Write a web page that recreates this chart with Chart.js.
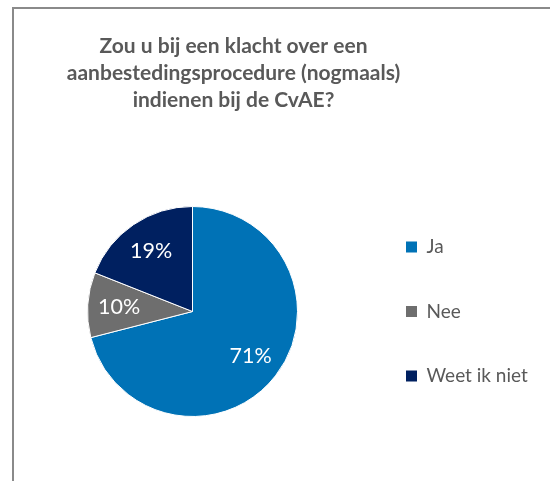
<!DOCTYPE html>
<html>
<head>
<meta charset="utf-8">
<script src="https://cdn.jsdelivr.net/npm/chart.js@4/dist/chart.umd.min.js"></script>
<style>
  html, body { margin: 0; padding: 0; background: #ffffff; }
  #wrap { position: relative; width: 550px; height: 481px; overflow: hidden; }
  #frame { position: absolute; left: 12px; top: 7px; width: 600px; height: 600px;
           border-left: 2px solid #8a8a8a; border-top: 2px solid #8a8a8a; box-sizing: border-box; }
  canvas { position: absolute; left: 0; top: 0; }
</style>
</head>
<body>
<div id="wrap">
  <div id="frame"></div>
  <canvas id="c" width="550" height="481"></canvas>
</div>
<script>
const titleLines = ['Zou u bij een klacht over een', 'aanbestedingsprocedure (nogmaals)', 'indienen bij de CvAE?'];
const categories = ['Ja', 'Nee', 'Weet ik niet'];
const values = [71, 10, 19];
const sliceColors = ['#0072B6', '#6E6E6E', '#002060'];

const FONT = 'Lato';
const legendFontSize = 19;
const legendPadding = 45.5;
const legendBox = 11;

// measure widest legend label to place legend so boxes start at x≈406
const mctx = document.createElement('canvas').getContext('2d');
mctx.font = legendFontSize + 'px ' + FONT;
const widest = Math.max(...categories.map(t => mctx.measureText(t).width));
const legendWidth = legendPadding + legendBox + legendFontSize / 2 + widest + 10;
const legendLeft = 406 - legendPadding;
const padRight = Math.max(0, 550 - legendLeft - legendWidth);
const pieCenterX = 192.5;
const padLeft = 2 * pieCenterX - legendLeft;

const labelPlugin = {
  id: 'sliceLabels',
  afterLayout(chart) {
    // center the title block over the left part like the original
    if (chart.titleBlock) { chart.titleBlock.left = 0; chart.titleBlock.right = 467; }
    // legend vertically centred on the pie (with room so it stays one column)
    if (chart.legend) {
      const ca = chart.chartArea;
      chart.legend.top = ca.top - 30;
      chart.legend.bottom = ca.bottom + 30;
      chart.legend.height = chart.legend.bottom - chart.legend.top;
    }
  },
  afterDatasetsDraw(chart) {
    const ctx = chart.ctx;
    const meta = chart.getDatasetMeta(0);
    ctx.save();
    ctx.fillStyle = '#ffffff';
    ctx.font = '21.5px ' + FONT;
    ctx.textAlign = 'center';
    ctx.textBaseline = 'middle';
    meta.data.forEach((arc, i) => {
      const p = arc.getProps(['x', 'y', 'startAngle', 'endAngle', 'outerRadius'], true);
      const mid = (p.startAngle + p.endAngle) / 2;
      const r = p.outerRadius * 0.7;
      ctx.fillText(values[i] + '%', p.x + Math.cos(mid) * r, p.y + Math.sin(mid) * r);
    });
    ctx.restore();
  }
};

new Chart(document.getElementById('c'), {
  type: 'pie',
  data: {
    labels: categories,
    datasets: [{
      data: values,
      backgroundColor: sliceColors,
      borderColor: '#ffffff',
      borderWidth: 1
    }]
  },
  options: {
    responsive: false,
    animation: false,
    layout: { padding: { left: padLeft, right: padRight, top: 0, bottom: 64 } },
    plugins: {
      tooltip: { enabled: false },
      title: {
        display: true,
        text: titleLines,
        color: '#595959',
        font: { family: FONT, size: 21, weight: 'bold', lineHeight: '27px' },
        padding: { top: 32.5, bottom: 92.5 }
      },
      legend: {
        position: 'right',
        align: 'center',
        labels: {
          color: '#595959',
          font: { family: FONT, size: legendFontSize },
          boxWidth: legendBox,
          boxHeight: legendBox,
          padding: legendPadding,
          generateLabels(chart) {
            return Chart.overrides.pie.plugins.legend.labels.generateLabels(chart)
              .map(l => Object.assign(l, { lineWidth: 0, strokeStyle: 'rgba(0,0,0,0)' }));
          }
        }
      }
    }
  },
  plugins: [labelPlugin]
});
</script>
</body>
</html>
